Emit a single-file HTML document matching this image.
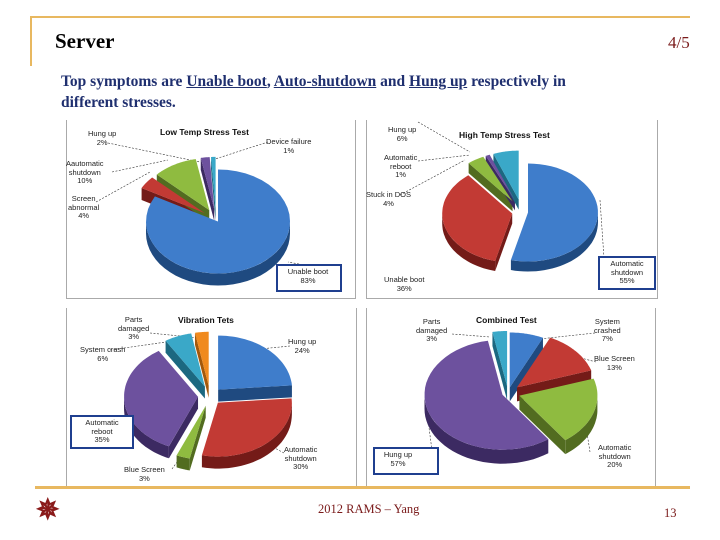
<!DOCTYPE html>
<html><head><meta charset="utf-8"><style>
body{margin:0;background:#fff;width:720px;height:540px;overflow:hidden;position:relative;font-family:"Liberation Serif",serif}
.a{position:absolute}
.lb{position:absolute;font-family:"Liberation Sans",sans-serif;font-size:7.5px;line-height:8.5px;text-align:center;color:#222}
.tt{position:absolute;font-family:"Liberation Sans",sans-serif;font-size:8.5px;font-weight:bold;color:#111}
.bx{position:absolute;border:2px solid #1f3f8f;background:#fff}
</style></head><body>
<div class="a" style="left:30px;top:16px;width:660px;height:2px;background:#e8b860"></div>
<div class="a" style="left:30px;top:16px;width:2px;height:50px;background:#e8b860"></div>
<div class="a" style="left:55px;top:29px;font-size:21px;font-weight:bold">Server</div>
<div class="a" style="left:668px;top:33px;font-size:17px;color:#7a1a1a">4/5</div>
<div class="a" style="left:61px;top:71px;font-size:15.5px;font-weight:bold;color:#1f2f6f;line-height:21px">Top symptoms are <u>Unable boot</u>, <u>Auto-shutdown</u> and <u>Hung up</u> respectively in<br>different stresses.</div>

<svg class="a" style="left:0;top:0" width="720" height="540" id="sv">
<g stroke="#aaa" stroke-width="1" fill="none">
<path d="M66.5 120V298.5H355.5V120"/>
<path d="M366.5 120V298.5H657.5V120"/>
<path d="M66.5 308V487M356.5 308V487"/>
<path d="M366.5 308V487M655.5 308V487"/>
</g>
<g stroke="#333" stroke-width="0.6" stroke-dasharray="2,1.5" fill="none">
<path d="M108 143L200 162M268 142L212 160M112 172L168 160M96 202L150 172M330 270L288 262"/>
<path d="M418 122L470 152M418 161L470 155M400 195L465 160M604 258L600 200"/>
<path d="M150 333L200 338M110 350L180 340M290 346L250 350M284 453L260 440M172 469L180 458"/>
<path d="M452 334L490 337M595 333L530 340M596 362L570 355M590 452L585 420M433 458L428 420"/>
</g>
<g id="pies"></g>
<rect x="0" y="486" width="690" height="3" fill="#e8b860"/>
<rect x="0" y="486" width="35" height="3" fill="#fff"/>
</svg>

<div class="tt" style="left:160px;top:127px">Low Temp Stress Test</div>
<div class="lb" style="left:88px;top:130px">Hung up<br>2%</div>
<div class="lb" style="left:266px;top:138px">Device failure<br>1%</div>
<div class="lb" style="left:66px;top:160px">Aautomatic<br>shutdown<br>10%</div>
<div class="lb" style="left:68px;top:195px">Screen<br>abnormal<br>4%</div>
<div class="bx" style="left:276px;top:264px;width:62px;height:24px"></div>
<div class="lb" style="left:280px;top:268px;width:56px">Unable boot<br>83%</div>

<div class="tt" style="left:459px;top:130px">High Temp Stress Test</div>
<div class="lb" style="left:388px;top:126px">Hung up<br>6%</div>
<div class="lb" style="left:384px;top:154px">Automatic<br>reboot<br>1%</div>
<div class="lb" style="left:366px;top:191px">Stuck in DOS<br>4%</div>
<div class="lb" style="left:384px;top:276px">Unable boot<br>36%</div>
<div class="bx" style="left:598px;top:256px;width:54px;height:30px"></div>
<div class="lb" style="left:600px;top:260px;width:54px">Automatic<br>shutdown<br>55%</div>

<div class="tt" style="left:178px;top:315px">Vibration Tets</div>
<div class="lb" style="left:118px;top:316px">Parts<br>damaged<br>3%</div>
<div class="lb" style="left:80px;top:346px">System crash<br>6%</div>
<div class="lb" style="left:288px;top:338px">Hung up<br>24%</div>
<div class="bx" style="left:70px;top:415px;width:60px;height:30px"></div>
<div class="lb" style="left:72px;top:419px;width:60px">Automatic<br>reboot<br>35%</div>
<div class="lb" style="left:284px;top:446px">Automatic<br>shutdown<br>30%</div>
<div class="lb" style="left:124px;top:466px">Blue Screen<br>3%</div>

<div class="tt" style="left:476px;top:315px">Combined Test</div>
<div class="lb" style="left:416px;top:318px">Parts<br>damaged<br>3%</div>
<div class="lb" style="left:594px;top:318px">System<br>crashed<br>7%</div>
<div class="lb" style="left:594px;top:355px">Blue Screen<br>13%</div>
<div class="lb" style="left:598px;top:444px">Automatic<br>shutdown<br>20%</div>
<div class="bx" style="left:373px;top:447px;width:62px;height:24px"></div>
<div class="lb" style="left:378px;top:451px;width:40px">Hung up<br>57%</div>

<div class="a" style="left:36px;top:493px;font-size:28px;color:#8a1a1a;font-weight:bold">✵</div>
<div class="a" style="left:318px;top:502px;font-size:12.5px;color:#7a1a1a">2012 RAMS – Yang</div>
<div class="a" style="left:664px;top:506px;font-size:12.5px;color:#7a1a1a">13</div>

<script>
var C={b:["#3f7dcb","#1f4a80"],r:["#c23a34","#741b18"],g:["#8fbb40","#526c20"],p:["#6d519e","#3c2a62"],c:["#3aa8c8","#1c6880"],o:["#f08a1e","#a4580a"]};
var out="";
function pt(cx,cy,rx,ry,a,d){var r=a*Math.PI/180;return [cx+rx*Math.sin(r),cy-ry*Math.cos(r)+(d||0)];}
function pie(cx,cy,rx,ry,dp,sl){
 var tot=sl.reduce(function(s,x){return s+x[0]},0),a=0,sides="",cuts="",tops="";
 sl.forEach(function(s){
  var a1=a,a2=a+s[0]/tot*360;a=a2;var m=(a1+a2)/2*Math.PI/180;
  var ox=s[2]*Math.sin(m),oy=-s[2]*Math.cos(m)*ry/rx;var x=cx+ox,y=cy+oy;
  var col=C[s[1]];
  var b1=Math.max(a1,90),b2=Math.min(a2,270);
  if(b2>b1){var p="M",q=[];for(var t=b1;t<=b2+0.01;t+=(b2-b1)/30){var P=pt(x,y,rx,ry,t);p+=P[0].toFixed(1)+" "+P[1].toFixed(1)+"L";q.push(pt(x,y,rx,ry,t,dp));}
   q.reverse().forEach(function(P){p+=P[0].toFixed(1)+" "+P[1].toFixed(1)+"L"});p=p.slice(0,-1)+"Z";
   sides+='<path d="'+p+'" fill="'+col[1]+'"/>';}
  function cut(t){var P=pt(x,y,rx,ry,t);cuts+='<path d="M'+x+" "+y+"L"+P[0]+" "+P[1]+"L"+P[0]+" "+(P[1]+dp)+"L"+x+" "+(y+dp)+'Z" fill="'+col[1]+'"/>';}
  if(s[0]/tot<0.999){ if(a1>180&&a1<360)cut(a1); if(a2>0.5&&a2<180)cut(a2); }
  var p="M"+x.toFixed(1)+" "+y.toFixed(1);for(var t=a1;t<=a2+0.01;t+=(a2-a1)/40){var P=pt(x,y,rx,ry,t);p+="L"+P[0].toFixed(1)+" "+P[1].toFixed(1);}
  tops+='<path d="'+p+'Z" fill="'+col[0]+'"/>';
 });
 out+=cuts+sides+tops;
}
pie(216,219,72,52,12,[[83,"b",4],[4,"r",14],[10,"g",14],[2,"p",14],[1,"c",14]]);
pie(522,212,70,49,10,[[55,"b",6],[36,"r",10],[4,"g",18],[1,"p",18],[6,"c",18]]);
pie(210,396,74,54,12,[[24,"b",12],[30,"r",12],[3,"g",14],[35,"p",12],[6,"c",14],[3,"o",14]]);
pie(508,393,78,55,14,[[7,"b",8],[13,"r",12],[20,"g",12],[57,"p",6],[3,"c",10]]);
document.getElementById("pies").innerHTML=out;
</script>
</body></html>
